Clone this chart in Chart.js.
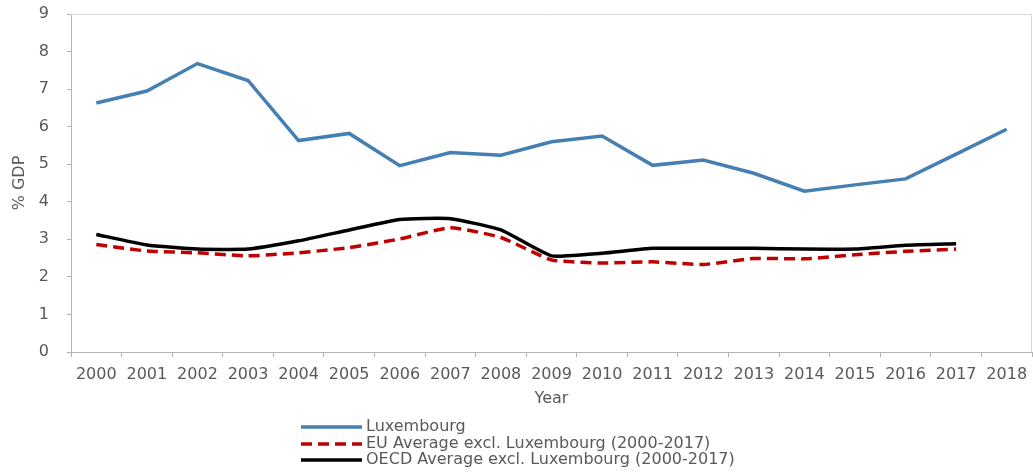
<!DOCTYPE html>
<html>
<head>
<meta charset="utf-8">
<script src="https://cdn.jsdelivr.net/npm/chart.js@4/dist/chart.umd.min.js"></script>
<style>
html,body{margin:0;padding:0;background:#fff;}
#wrap{width:1033px;height:473px;position:relative;}
</style>
</head>
<body>
<div id="wrap"><canvas id="c" width="1033" height="473"></canvas></div>
<script>
const years = ['2000','2001','2002','2003','2004','2005','2006','2007','2008','2009','2010','2011','2012','2013','2014','2015','2016','2017','2018'];
const luxembourg = [6.63,6.95,7.68,7.23,5.63,5.82,4.96,5.31,5.24,5.60,5.75,4.97,5.11,4.76,4.28,4.45,4.61,5.27,5.93];
const euAverage = [2.86,2.69,2.64,2.56,2.64,2.78,3.01,3.31,3.05,2.45,2.37,2.40,2.33,2.49,2.48,2.59,2.68,2.74,null];
const oecdAverage = [3.13,2.85,2.74,2.74,2.96,3.25,3.53,3.55,3.25,2.56,2.63,2.76,2.76,2.76,2.74,2.74,2.84,2.88,null];
const seriesNames = ['Luxembourg','EU Average excl. Luxembourg (2000-2017)','OECD Average excl. Luxembourg (2000-2017)'];

const FONT = "'DejaVu Sans', sans-serif";
const TXT = '#595959';
const AXIS = '#b3b3b3';

const frame = {
  id: 'frame',
  afterDraw(chart) {
    const {ctx, chartArea: a} = chart;
    ctx.save();
    ctx.strokeStyle = '#d9d9d9';
    ctx.lineWidth = 1;
    ctx.beginPath();
    ctx.moveTo(a.left, a.top + 0.5);
    ctx.lineTo(a.right - 0.5, a.top + 0.5);
    ctx.lineTo(a.right - 0.5, a.bottom);
    ctx.stroke();
    ctx.restore();
  }
};

const vLegend = {
  id: 'vLegend',
  afterDraw(chart) {
    const ctx = chart.ctx;
    const rowsY = [427, 444, 460];
    ctx.save();
    ctx.font = '16px ' + FONT;
    ctx.textBaseline = 'middle';
    ctx.fillStyle = TXT;
    chart.data.datasets.forEach((ds, i) => {
      const y = rowsY[i];
      ctx.strokeStyle = ds.borderColor;
      ctx.lineWidth = 3.5;
      ctx.setLineDash(ds.borderDash || []);
      ctx.beginPath();
      ctx.moveTo(301, y);
      ctx.lineTo(362, y);
      ctx.stroke();
      ctx.setLineDash([]);
      ctx.fillText(ds.label, 366, y);
    });
    ctx.restore();
  }
};

new Chart(document.getElementById('c'), {
  type: 'line',
  data: {
    labels: years,
    datasets: [
      {label: seriesNames[0], data: luxembourg, borderColor: '#4680b3', borderWidth: 3.5, pointRadius: 0, tension: 0},
      {label: seriesNames[1], data: euAverage, borderColor: '#c00000', borderWidth: 3.5, borderDash: [11, 6], pointRadius: 0, tension: 0.15},
      {label: seriesNames[2], data: oecdAverage, borderColor: '#000000', borderWidth: 3.5, pointRadius: 0, tension: 0.15}
    ]
  },
  options: {
    responsive: false,
    animation: false,
    devicePixelRatio: 1,
    layout: {padding: {top: 14, right: 1, left: 0, bottom: 0}},
    plugins: {legend: {display: false}, tooltip: {enabled: false}},
    scales: {
      x: {
        offset: true,
        grid: {offset: true, drawOnChartArea: false, drawTicks: true, tickLength: 5, color: AXIS},
        border: {color: AXIS},
        ticks: {color: TXT, font: {family: FONT, size: 16}, padding: 8, maxRotation: 0, autoSkip: false},
        title: {display: true, text: 'Year', color: TXT, font: {family: FONT, size: 16}, padding: {top: 0, bottom: 65}},
        afterFit(s) { s.height = 121; s.paddingLeft = 0; s.paddingRight = 0; }
      },
      y: {
        min: 0, max: 9,
        ticks: {stepSize: 1, color: TXT, font: {family: FONT, size: 16}, padding: 18},
        grid: {drawOnChartArea: false, drawTicks: true, tickLength: 4, color: AXIS},
        border: {color: AXIS},
        title: {display: true, text: '% GDP', color: TXT, font: {family: FONT, size: 16}, padding: {top: 10, bottom: 0}},
        afterFit(s) { s.width = 71; s.paddingTop = 0; s.paddingBottom = 0; }
      }
    }
  },
  plugins: [frame, vLegend]
});
</script>
</body>
</html>
